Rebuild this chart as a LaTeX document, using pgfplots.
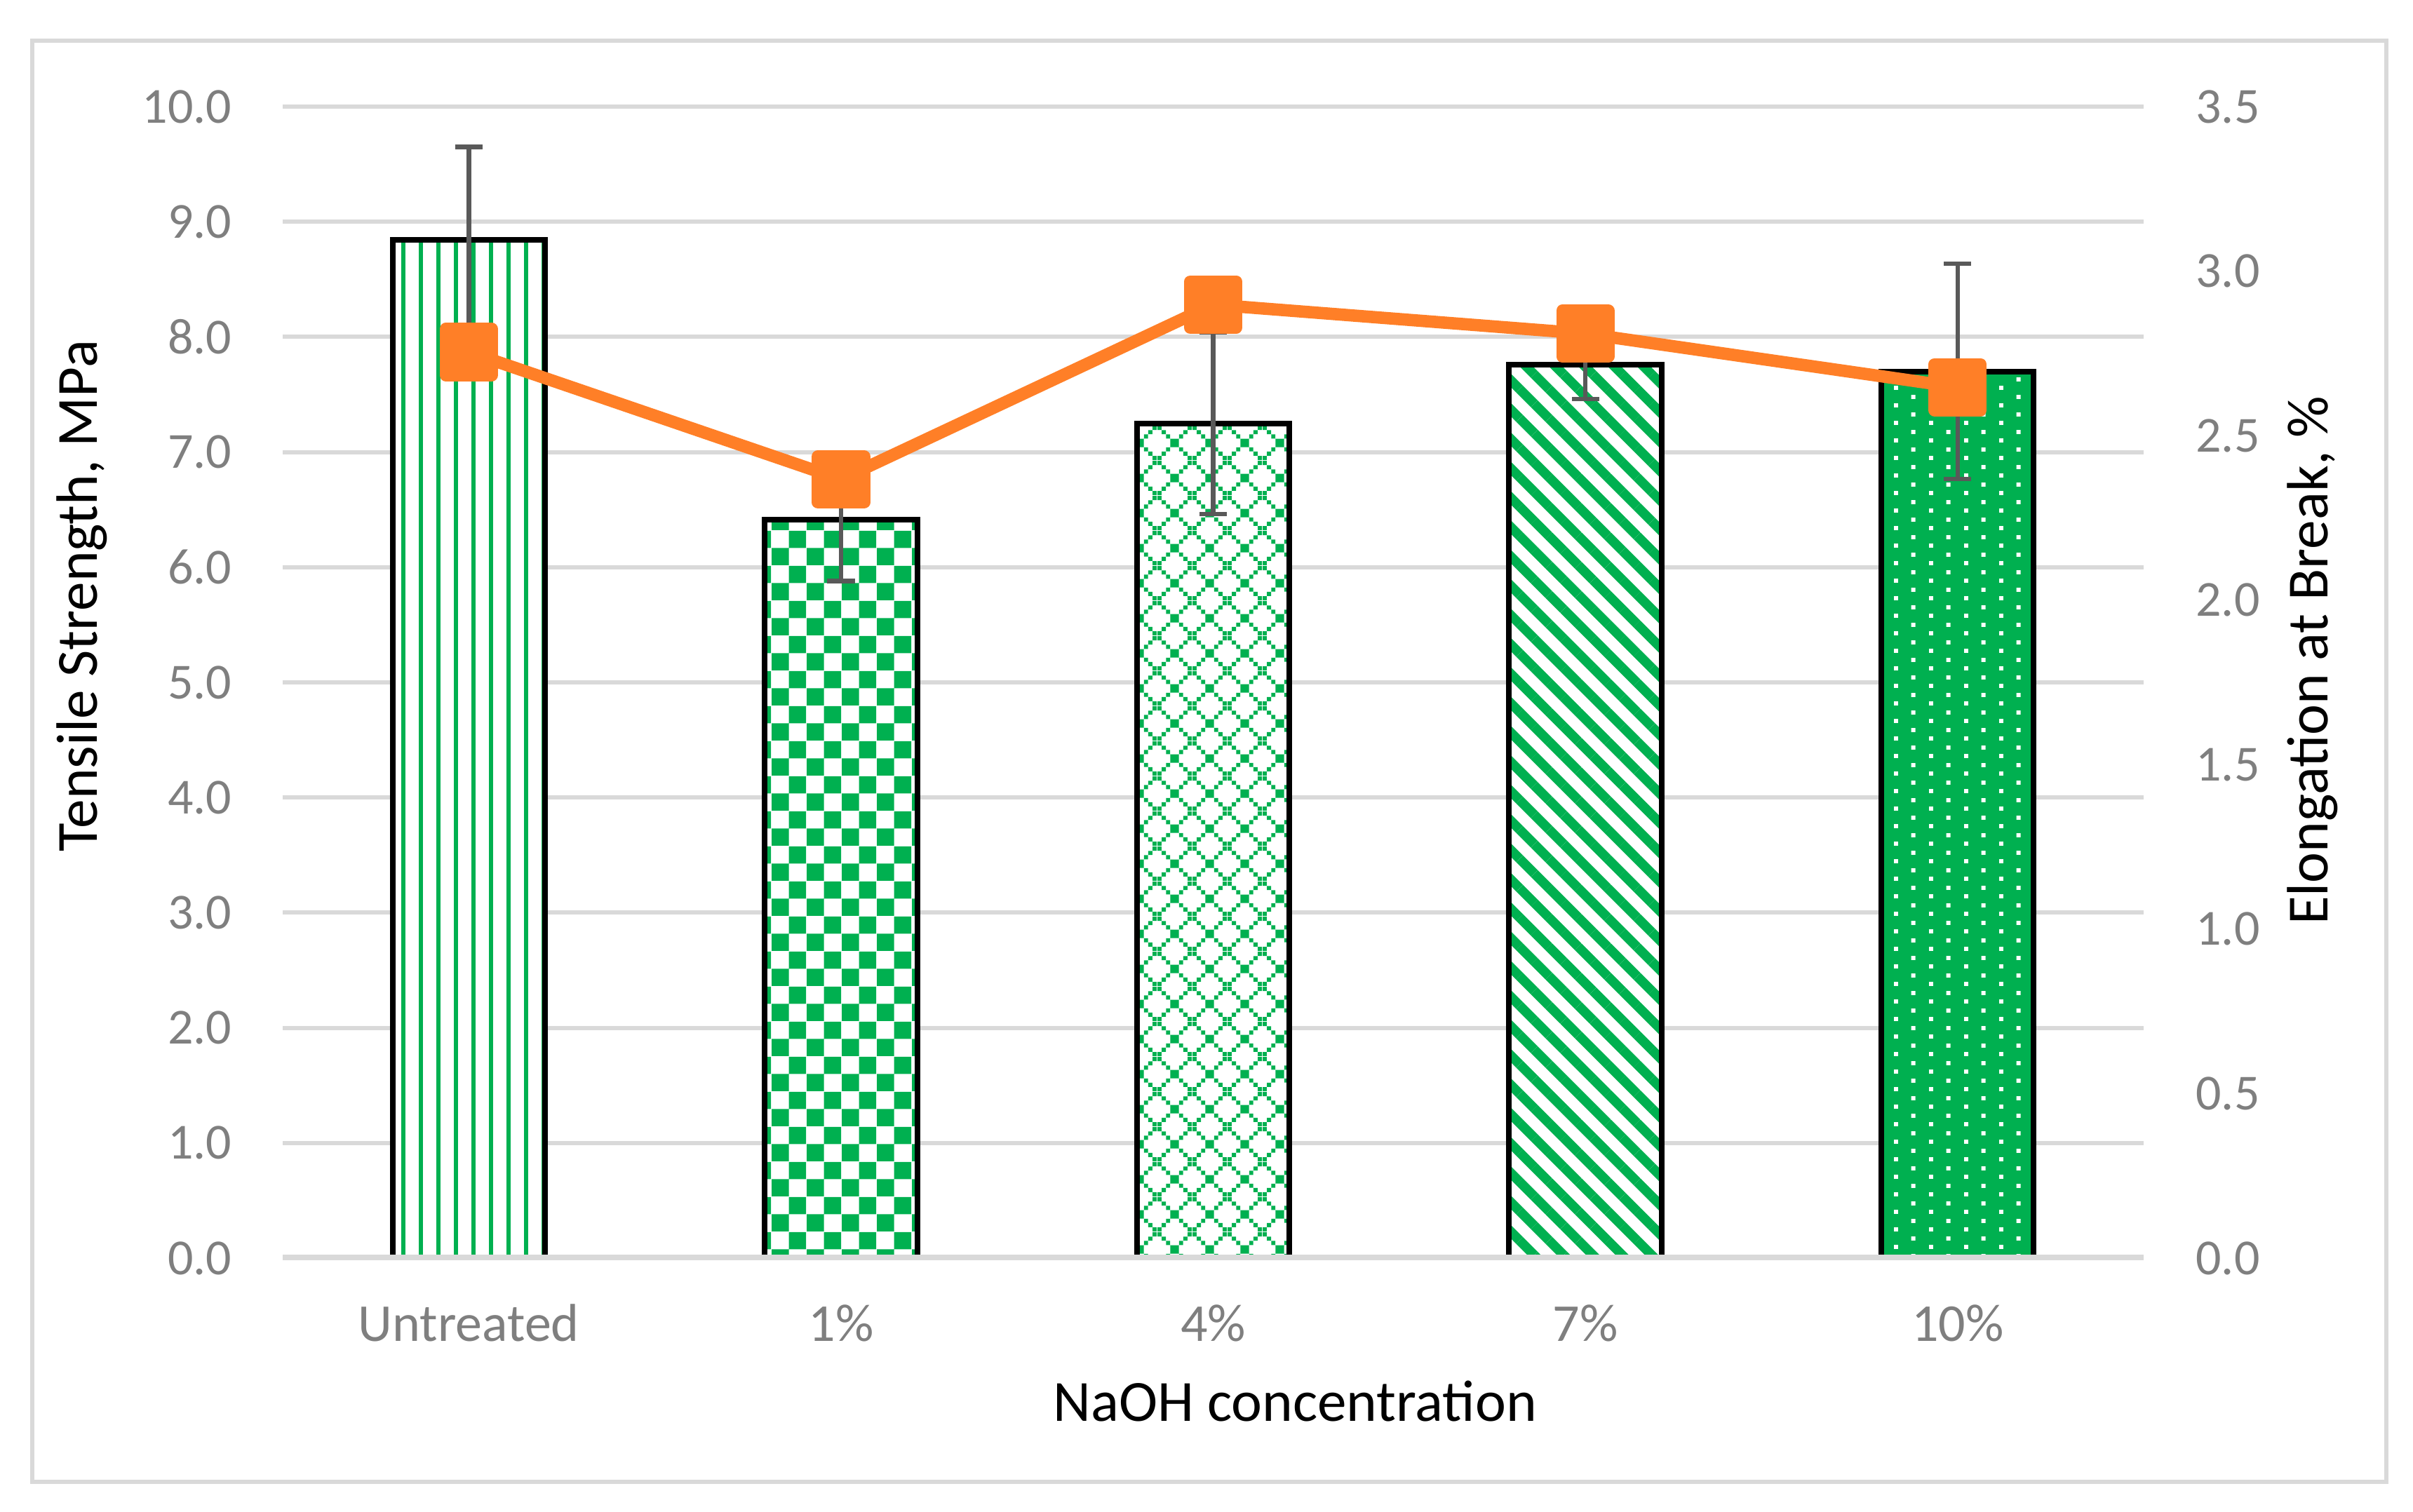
\documentclass[border=0pt]{standalone}
\usepackage{fontspec}
\setmainfont{Carlito}
\usepackage{pgfplots}
\pgfplotsset{compat=1.18}
\usetikzlibrary{patterns,patterns.meta}

\definecolor{barGreen}{HTML}{00B050}
\definecolor{lineOrange}{HTML}{FF7F27}
\definecolor{gridGray}{HTML}{D9D9D9}
\definecolor{tickGray}{HTML}{7F7F7F}
\definecolor{errGray}{HTML}{595959}

% large checkerboard (1%)
\pgfdeclarepatternformonly{bigchecker}{\pgfqpoint{0pt}{0pt}}{\pgfqpoint{6.25pt}{6.25pt}}{\pgfqpoint{6.25pt}{6.25pt}}{%
  \pgfpathrectangle{\pgfqpoint{0pt}{0pt}}{\pgfqpoint{3.125pt}{3.125pt}}%
  \pgfpathrectangle{\pgfqpoint{3.125pt}{3.125pt}}{\pgfqpoint{3.125pt}{3.125pt}}%
  \pgfusepath{fill}}

% dotted diamond (4%)
\pgfdeclarepatternformonly{trellis}{\pgfqpoint{0pt}{0pt}}{\pgfqpoint{6.25pt}{6.25pt}}{\pgfqpoint{6.25pt}{6.25pt}}{%
  \pgfpathrectangle{\pgfqpoint{0pt}{0pt}}{\pgfqpoint{0.75pt}{0.75pt}}%
  \pgfpathrectangle{\pgfqpoint{0.78125pt}{0.78125pt}}{\pgfqpoint{0.75pt}{0.75pt}}%
  \pgfpathrectangle{\pgfqpoint{1.5625pt}{1.5625pt}}{\pgfqpoint{0.75pt}{0.75pt}}%
  \pgfpathrectangle{\pgfqpoint{2.34375pt}{2.34375pt}}{\pgfqpoint{0.75pt}{0.75pt}}%
  \pgfpathrectangle{\pgfqpoint{3.125pt}{3.125pt}}{\pgfqpoint{0.75pt}{0.75pt}}%
  \pgfpathrectangle{\pgfqpoint{3.90625pt}{3.90625pt}}{\pgfqpoint{0.75pt}{0.75pt}}%
  \pgfpathrectangle{\pgfqpoint{4.6875pt}{4.6875pt}}{\pgfqpoint{0.75pt}{0.75pt}}%
  \pgfpathrectangle{\pgfqpoint{5.46875pt}{5.46875pt}}{\pgfqpoint{0.75pt}{0.75pt}}%
  \pgfpathrectangle{\pgfqpoint{0pt}{5.46875pt}}{\pgfqpoint{0.75pt}{0.75pt}}%
  \pgfpathrectangle{\pgfqpoint{0.78125pt}{4.6875pt}}{\pgfqpoint{0.75pt}{0.75pt}}%
  \pgfpathrectangle{\pgfqpoint{1.5625pt}{3.90625pt}}{\pgfqpoint{0.75pt}{0.75pt}}%
  \pgfpathrectangle{\pgfqpoint{2.34375pt}{3.125pt}}{\pgfqpoint{0.75pt}{0.75pt}}%
  \pgfpathrectangle{\pgfqpoint{3.125pt}{2.34375pt}}{\pgfqpoint{0.75pt}{0.75pt}}%
  \pgfpathrectangle{\pgfqpoint{3.90625pt}{1.5625pt}}{\pgfqpoint{0.75pt}{0.75pt}}%
  \pgfpathrectangle{\pgfqpoint{4.6875pt}{0.78125pt}}{\pgfqpoint{0.75pt}{0.75pt}}%
  \pgfpathrectangle{\pgfqpoint{5.46875pt}{0pt}}{\pgfqpoint{0.75pt}{0.75pt}}%
  \pgfusepath{fill}}

% staggered small dots (10%)
\pgfdeclarepatternformonly{smalldots}{\pgfqpoint{0pt}{0pt}}{\pgfqpoint{6.25pt}{3.125pt}}{\pgfqpoint{6.25pt}{3.125pt}}{%
  \pgfpathrectangle{\pgfqpoint{0pt}{0pt}}{\pgfqpoint{0.75pt}{0.75pt}}%
  \pgfpathrectangle{\pgfqpoint{3.125pt}{1.5625pt}}{\pgfqpoint{0.75pt}{0.75pt}}%
  \pgfusepath{fill}}

\pgfplotsset{
  base/.style={
    scale only axis, width=331.625pt, height=205.25pt,
    at={(50.375pt,45.25pt)}, anchor=south west,
    xmin=-0.5, xmax=4.5,
    axis line style={draw=none},
    major tick length=0pt,
    tick label style={font=\fontsize{9}{10}\selectfont, text=tickGray},
    label style={font=\fontsize{10.4}{12}\selectfont, text=black},
    /pgf/number format/fixed,
    /pgf/number format/fixed zerofill,
    /pgf/number format/precision=1,
    /pgf/number format/assume math mode=true,
  },
  errs/.style={
    error bars/.cd,
      y dir=both, y explicit,
      error bar style={errGray, solid, line width=0.8pt},
      error mark options={errGray, solid, rotate=90, mark size=2.45pt, line width=0.8pt},
  },
  barbox/.style={draw=black, line width=1pt},
}

\begin{document}
\begin{tikzpicture}
\path[use as bounding box] (0,0) rectangle (430pt,269.5pt);

\begin{axis}[base,
  ymin=0, ymax=10, ytick={0,1,2,3,4,5,6,7,8,9,10},
  ymajorgrids, grid style={gridGray, line width=0.75pt},
  xtick={0,1,2,3,4}, xticklabels={Untreated,1\%,4\%,7\%,10\%},
  xticklabel style={anchor=base, inner sep=0pt, yshift=-14.875pt, font=\fontsize{9.5}{10}\selectfont},
  yticklabel style={anchor=east, inner sep=0pt, xshift=-8.9pt},
  xlabel={NaOH concentration},
  ylabel={Tensile Strength, MPa},
  xlabel style={at={(axis description cs:0.544,-0.1418)}, anchor=base},
  ylabel style={at={(axis description cs:-0.0998,0.575)}, anchor=base},
  ybar, bar width=0.41, bar shift=0pt,
]
\addplot[barbox, preaction={fill=white}, pattern={Lines[angle=90,distance=3.125pt,line width=0.67pt]}, pattern color=barGreen, errs]
  coordinates {(0,8.84) +- (0,0.81)};
\addplot[barbox, preaction={fill=white}, pattern=bigchecker, pattern color=barGreen, errs]
  coordinates {(1,6.41) +- (0,0.53)};
\addplot[barbox, preaction={fill=white}, pattern=trellis, pattern color=barGreen, errs]
  coordinates {(2,7.25) +- (0,0.79)};
\addplot[barbox, preaction={fill=white}, pattern={Lines[angle=-45,distance=3.7pt,line width=1.7pt]}, pattern color=barGreen, errs]
  coordinates {(3,7.76) +- (0,0.30)};
\addplot[barbox, preaction={fill=barGreen}, pattern=smalldots, pattern color=white, errs]
  coordinates {(4,7.70) +- (0,0.935)};
% zero gridline sits over the bar feet, as in the original
\draw[gridGray, line width=0.75pt] ([yshift=0.2pt]axis cs:-0.5,0) -- ([yshift=0.2pt]axis cs:4.5,0);
\end{axis}

\begin{axis}[base,
  ymin=0, ymax=3.5, ytick={0,0.5,1,1.5,2,2.5,3,3.5},
  axis x line=none, axis y line*=right,
  yticklabel style={anchor=west, inner sep=0pt, xshift=9.1pt},
  ylabel={Elongation at Break, \%},
  ylabel style={at={(axis description cs:1.0988,0.519)}, anchor=base},
]
\addplot[lineOrange, line width=2.2pt, line join=round,
  mark=square*, mark size=4.1pt, mark options={draw=none, fill=lineOrange}]
  coordinates {(0,2.754) (1,2.367) (2,2.898) (3,2.81) (4,2.647)};
\end{axis}

\draw[gridGray, line width=0.75pt] (5.75pt,5.375pt) rectangle (425.25pt,262.25pt);
\end{tikzpicture}
\end{document}
